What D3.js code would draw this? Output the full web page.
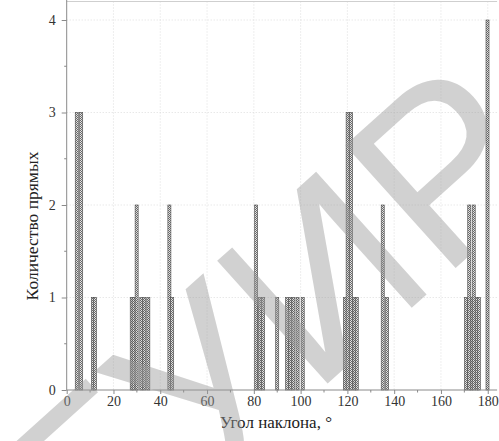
<!DOCTYPE html>
<html><head><meta charset="utf-8">
<script src="https://cdn.jsdelivr.net/npm/d3@7"></script>
<style>body{margin:0;background:#fff}svg{display:block}</style>
</head><body>
<svg id="c" width="499" height="441"></svg>
<script>
// Data: bar centre angle (degrees) and number of lines
const angles = [4.3, 6.2, 11.2, 12.1, 27.8, 28.6, 29.9, 31.9, 33.2, 34.9, 43.9, 45.1,
  81.0, 82.5, 84.0, 90.0, 94.2, 95.6, 96.9, 98.7, 100.9, 118.9, 120.1, 121.6, 123.0, 124.0,
  135.1, 137.0, 170.7, 173.0, 172.1, 174.0, 175.3, 176.2, 179.9];
const counts = [3, 3, 1, 1, 1, 1, 2, 1, 1, 1, 2, 1,
  2, 1, 1, 1, 1, 1, 1, 1, 1, 1, 3, 3, 1, 1,
  2, 1, 1, 1, 2, 2, 1, 1, 4];
const barWidthDeg = 1.3;
const xTicks = [0, 20, 40, 60, 80, 100, 120, 140, 160, 180];
const xMinorTicks = [10, 30, 50, 70, 90, 110, 130, 150, 170];
const yTicks = [0, 1, 2, 3, 4];
const yMinorTicks = [0.5, 1.5, 2.5, 3.5];
const xTitle = "Угол наклона, °";
const yTitle = "Количество прямых";
const watermark = "БГУИР";

const svg = d3.select("#c");
const x = d3.scaleLinear().domain([0, 184]).range([66.7, 497.1]);
const y = d3.scaleLinear().domain([0, 4.2]).range([390, 1.5]);
const serif = '"Liberation Serif"';

const defs = svg.append("defs");
const pat = defs.append("pattern").attr("id", "hatch").attr("patternUnits", "userSpaceOnUse")
  .attr("width", 2).attr("height", 2);
pat.append("rect").attr("width", 2).attr("height", 2).attr("fill", "#e2e2e2");
pat.append("rect").attr("width", 1).attr("height", 1).attr("fill", "#6a6a6a");
pat.append("rect").attr("x", 1).attr("y", 1).attr("width", 1).attr("height", 1).attr("fill", "#6a6a6a");

// grid
svg.append("g").selectAll("line").data(xTicks.filter(d => d > 0)).join("line")
  .attr("x1", d => x(d)).attr("x2", d => x(d)).attr("y1", y(4.2)).attr("y2", y(0))
  .attr("stroke", "#d6d6d6").attr("stroke-width", 0.8).attr("stroke-dasharray", "1,2");
svg.append("g").selectAll("line").data(yTicks.filter(d => d > 0)).join("line")
  .attr("x1", x(0)).attr("x2", x(184)).attr("y1", d => y(d)).attr("y2", d => y(d))
  .attr("stroke", "#d6d6d6").attr("stroke-width", 0.8).attr("stroke-dasharray", "1,2");
svg.append("line").attr("x1", x(0)).attr("x2", x(184)).attr("y1", y(4.2)).attr("y2", y(4.2))
  .attr("stroke", "#cfcfcf").attr("stroke-width", 1);

// bars
const bars = angles.map((a, i) => ({a, c: counts[i]}));
svg.append("g").selectAll("rect").data(bars).join("rect")
  .attr("x", d => x(d.a - barWidthDeg / 2))
  .attr("width", d => x(d.a + barWidthDeg / 2) - x(d.a - barWidthDeg / 2))
  .attr("y", d => y(d.c)).attr("height", d => y(0) - y(d.c))
  .attr("fill", "url(#hatch)").attr("stroke", "#4a4a4a").attr("stroke-width", 0.6);

// axes
const xAxis = d3.axisBottom(x).tickValues(xTicks).tickSize(4).tickFormat(d3.format("d"));
const gx = svg.append("g").attr("transform", `translate(0,${y(0)})`).call(xAxis);
gx.append("g").selectAll("line").data(xMinorTicks).join("line")
  .attr("x1", d => x(d)).attr("x2", d => x(d)).attr("y1", 0).attr("y2", 2.5).attr("stroke", "#888");
const yAxis = d3.axisLeft(y).tickValues(yTicks).tickSize(5).tickFormat(d3.format("d"));
const gy = svg.append("g").attr("transform", `translate(${x(0)},0)`).call(yAxis);
gy.append("g").selectAll("line").data(yMinorTicks).join("line")
  .attr("y1", d => y(d)).attr("y2", d => y(d)).attr("x1", 0).attr("x2", -2.5).attr("stroke", "#888");
[gx, gy].forEach(g => {
  g.attr("font-family", null).attr("font-size", null);
  g.select(".domain").attr("stroke", "#8a8a8a");
  g.selectAll(".tick line").attr("stroke", "#8a8a8a");
  g.selectAll("text").style("font-family", serif).style("font-size", "14px").attr("fill", "#333");
});
gx.select(".domain").attr("d", `M${x(0)},0H${x(184)}`);
gy.select(".domain").attr("d", `M0,${y(0)}V0`);
gx.selectAll(".tick text").attr("dy", "0.72em").attr("y", 6);
gy.selectAll(".tick text").attr("x", -11);

// titles
svg.append("text").attr("x", 276).attr("y", 428).attr("text-anchor", "middle")
  .style("font-family", serif).style("font-size", "17px").attr("fill", "#222").text(xTitle);
svg.append("text").attr("transform", "translate(38,226) rotate(-90)").attr("text-anchor", "middle")
  .style("font-family", serif).style("font-size", "17.5px").attr("fill", "#222").text(yTitle);

// watermark
svg.append("text").attr("transform", "translate(-14,691) rotate(-42)")
  .style("font-family", '"Liberation Sans"').style("font-size", "240px")
  .attr("fill", "#9a9a9a").attr("fill-opacity", 0.45).text(watermark);
</script>
</body></html>
